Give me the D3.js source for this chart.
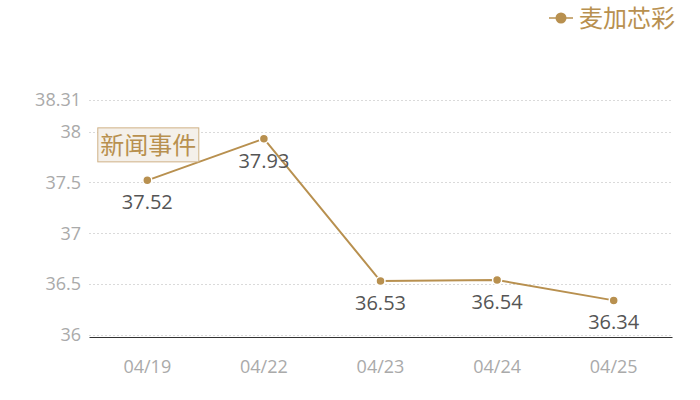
<!DOCTYPE html>
<html>
<head>
<meta charset="utf-8">
<script src="https://cdn.jsdelivr.net/npm/d3@7"></script>
<style>
  body { margin: 0; background: #fff; }
  svg { font-family: "Open Sans", "Noto Sans CJK SC", sans-serif; }
  .cjk { font-family: "Noto Sans CJK SC", sans-serif; }
  .grid line { stroke: #dadada; stroke-dasharray: 2,2; }
  .tick text { fill: #aaa; font-size: 18px; font-family: "Open Sans", sans-serif; }
</style>
</head>
<body>
<div id="chart"></div>
<script>
const dates = ["04/19", "04/22", "04/23", "04/24", "04/25"];
const prices = [37.52, 37.93, 36.53, 36.54, 36.34];
const yTicks = [36, 36.5, 37, 37.5, 38, 38.31];
const seriesName = "麦加芯彩";
const eventLabel = "新闻事件";

const W = 700, H = 400;
const margin = {top: 100, right: 28, bottom: 63, left: 89};
const width = W - margin.left - margin.right,
      height = H - margin.top - margin.bottom;
const gold = "#b8904f";

const svg = d3.select("#chart")
    .append("svg")
    .attr("width", W)
    .attr("height", H);
const g = svg.append("g")
    .attr("transform", "translate(" + margin.left + "," + margin.top + ")");

let x = d3.scaleBand()
    .domain(dates)
    .range([0, width]);

let y = d3.scaleLinear()
    .domain([35.98, 38.31])
    .range([height, 0]);

// gridlines
g.append("g")
    .attr("class", "grid")
    .selectAll("line")
    .data(yTicks)
    .join("line")
    .attr("x1", 0)
    .attr("x2", width)
    .attr("y1", d => Math.round(y(d)) + 0.5)
    .attr("y2", d => Math.round(y(d)) + 0.5);

// y labels
g.append("g")
    .call(d3.axisLeft(y)
        .tickValues(yTicks)
        .tickFormat(d => d)
        .tickSize(0)
        .tickPadding(8))
    .call(a => a.select(".domain").remove());

// x axis
g.append("g")
    .attr("transform", "translate(0," + height + ")")
    .call(d3.axisBottom(x)
        .tickSize(0)
        .tickPadding(23))
    .call(a => a.select(".domain").attr("stroke", "#333"));

const cx = d => x(d) + x.bandwidth() / 2;

g.append("path")
    .datum(prices)
    .attr("fill", "none")
    .attr("stroke", gold)
    .attr("stroke-width", 2)
    .attr("d", d3.line()
        .x((d, i) => cx(dates[i]))
        .y(d => y(d)));

g.selectAll(".dot")
    .data(prices)
    .join("circle")
    .attr("cx", (d, i) => cx(dates[i]))
    .attr("cy", d => y(d))
    .attr("r", 4.5)
    .attr("fill", gold)
    .attr("stroke", "#fff")
    .attr("stroke-width", 1.5);

g.selectAll(".val")
    .data(prices)
    .join("text")
    .attr("x", (d, i) => cx(dates[i]))
    .attr("y", d => y(d) + 29)
    .attr("text-anchor", "middle")
    .attr("fill", "#555")
    .attr("font-size", 20)
    .text(d => d.toFixed(2));

// event annotation
const ev = g.append("g")
    .attr("transform", "translate(" + (cx(dates[0]) - 50) + "," + (y(prices[0]) - 53) + ")");
ev.append("rect")
    .attr("x", 0.5)
    .attr("y", 0.5)
    .attr("width", 101)
    .attr("height", 34)
    .attr("fill", "#f4f0ea")
    .attr("stroke", "#cfb286");
ev.append("text")
    .attr("class", "cjk")
    .attr("x", 51)
    .attr("y", 27)
    .attr("text-anchor", "middle")
    .attr("fill", gold)
    .attr("font-size", 24)
    .text(eventLabel);

// legend
const lg = svg.append("g").attr("transform", "translate(549,18)");
lg.append("line")
    .attr("x1", 0).attr("x2", 24)
    .attr("stroke", gold).attr("stroke-width", 1.5);
lg.append("circle")
    .attr("cx", 12).attr("r", 5.5)
    .attr("fill", gold);
lg.append("text")
    .attr("class", "cjk")
    .attr("x", 30)
    .attr("y", 9)
    .attr("fill", gold)
    .attr("font-size", 24)
    .text(seriesName);
</script>
</body>
</html>
